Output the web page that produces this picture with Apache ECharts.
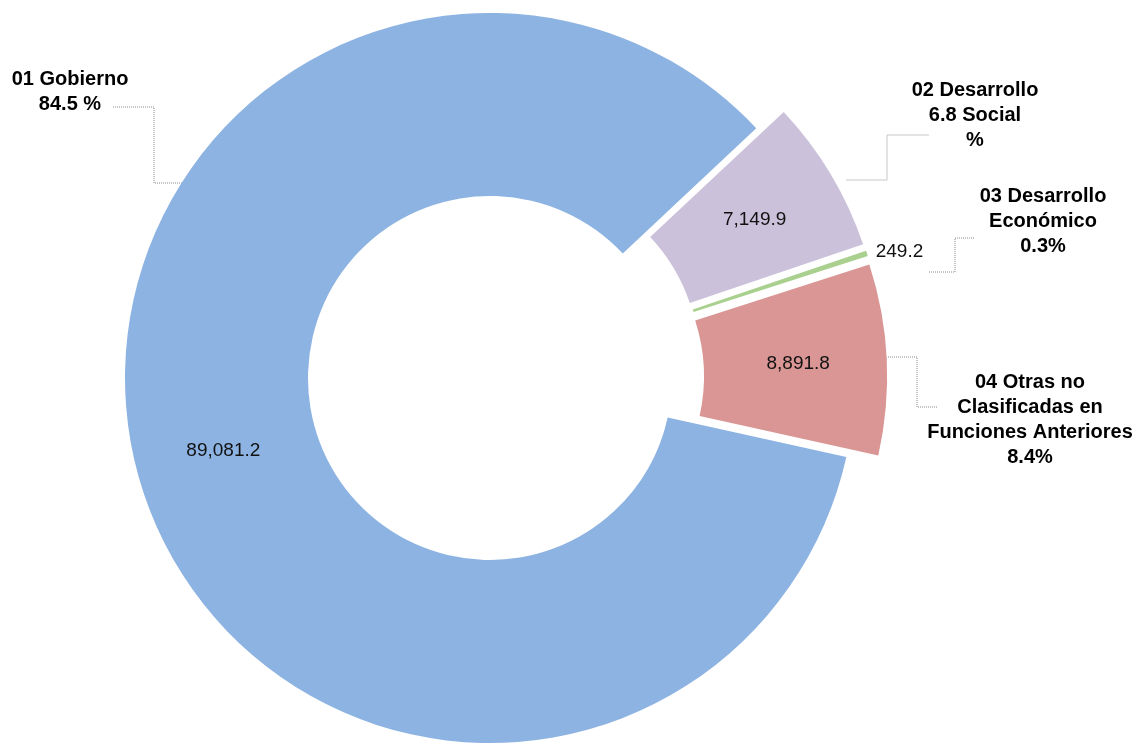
<!DOCTYPE html>
<html>
<head>
<meta charset="utf-8">
<script src="https://cdn.jsdelivr.net/npm/echarts@6/dist/echarts.min.js"></script>
<style>
html,body{margin:0;padding:0;background:#ffffff;}
#chart{width:1143px;height:748px;}
</style>
</head>
<body>
<div id="chart"></div>
<script>
// ---- data ----
const categories = ['01 Gobierno', '02 Desarrollo Social', '03 Desarrollo Económico', '04 Otras no Clasificadas en Funciones Anteriores'];
const values = [89081.2, 7149.9, 249.2, 8891.8];
const outerLabels = ['01 Gobierno\n84.5 %', '02 Desarrollo\n6.8 Social\n%', '03 Desarrollo\nEconómico\n0.3%', '04 Otras no\nClasificadas en\nFunciones Anteriores\n8.4%'];
const exploded = [false, true, true, true];

// ---- styles ----
const colors = ['#8DB3E2', '#CCC1DA', '#A9D08E', '#D99694'];
const FONT = "'Liberation Sans', Arial, sans-serif";

// annotation layout for the outer (category) labels and their leader lines
const outerLayout = [
  { x: 70,   y: 67,  line: [[190,183],[154,183],[154,107],[112,107]], type: 'dotted' },
  { x: 975,  y: 78,  line: [[846,180],[887,180],[887,135],[929,135]], type: 'solid' },
  { x: 1043, y: 184, line: [[929,272],[955,272],[955,238],[975,238]], type: 'dotted' },
  { x: 1030, y: 370, line: [[888,357],[917,357],[917,407],[937,407]], type: 'dotted' }
];

function fmt(v) {
  return v.toLocaleString('en-US', { minimumFractionDigits: 1, maximumFractionDigits: 1 });
}

const chart = echarts.init(document.getElementById('chart'), null, { renderer: 'canvas' });

const CENTER = [490, 378];
const RADIUS = [182, 365];
const START = 347.5;

const option = {
  backgroundColor: '#ffffff',
  animation: false,
  series: [
    {
      // invisible copy that carries the outer category labels
      type: 'pie',
      center: CENTER,
      radius: RADIUS,
      startAngle: START,
      clockwise: true,
      silent: true,
      avoidLabelOverlap: false,
      z: 1,
      itemStyle: { color: 'rgba(0,0,0,0)', borderWidth: 0 },
      label: {
        show: true,
        position: 'outside',
        formatter: function (p) { return outerLabels[p.dataIndex]; },
        fontFamily: FONT,
        fontSize: 20,
        fontWeight: 'bold',
        color: '#000000',
        lineHeight: 25,
        align: 'center'
      },
      labelLine: { show: true, lineStyle: { color: '#8a8a8a', width: 1, type: 'dotted' } },
      labelLayout: function (p) {
        const L = outerLayout[p.dataIndex];
        return { x: L.x, y: L.y, align: 'center', verticalAlign: 'top', labelLinePoints: L.line };
      },
      data: values.map(function (v, i) {
        return {
          name: categories[i], value: v,
          labelLine: { lineStyle: { type: outerLayout[i].type, color: outerLayout[i].type === 'solid' ? '#c8c8c8' : '#8a8a8a' } }
        };
      })
    },
    {
      type: 'pie',
      center: CENTER,
      radius: RADIUS,
      startAngle: START,
      clockwise: true,
      selectedMode: 'multiple',
      selectedOffset: 32,
      avoidLabelOverlap: false,
      z: 2,
      emphasis: { disabled: true },
      itemStyle: { borderWidth: 0 },
      label: {
        show: true,
        position: 'inside',
        formatter: function (p) { return fmt(p.value); },
        fontFamily: FONT,
        fontSize: 19,
        color: '#111111'
      },
      labelLine: { show: false },
      data: values.map(function (v, i) {
        const item = {
          name: categories[i], value: v, selected: exploded[i],
          itemStyle: { color: colors[i] }
        };
        if (i === 2) {
          item.label = { position: 'outside', padding: [0, 0, 20, 0] };
          item.labelLine = { show: false, length: 4, length2: 0 };
        }
        return item;
      })
    }
  ]
};

chart.setOption(option);
</script>
</body>
</html>
